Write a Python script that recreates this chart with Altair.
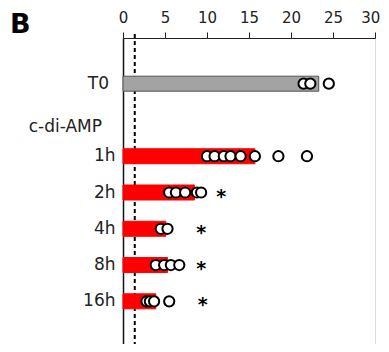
import altair as alt
import pandas as pd

# ---- data ----
rows = ["T0", "c-di-AMP", "1h", "2h", "4h", "8h", "16h"]
bar_groups = ["T0", "1h", "2h", "4h", "8h", "16h"]
bar_means = [23.3, 15.7, 8.5, 5.1, 5.3, 3.9]

pts_T0 = [21.5, 22.3, 24.5]
pts_1h = [10.0, 10.9, 12.0, 12.8, 14.0, 15.7, 18.5, 21.9]
pts_2h = [5.5, 6.3, 7.4, 8.8, 9.3]
pts_4h = [4.5, 5.3]
pts_8h = [3.9, 4.9, 5.7, 6.7]
pts_16h = [2.8, 3.2, 3.7, 5.5]

sig_groups = ["2h", "4h", "8h", "16h"]
sig_x = [11.7, 9.3, 9.3, 9.5]

threshold = 1.4
x_ticks = [0, 5, 10, 15, 20, 25, 30]

# ---- tables ----
bars = pd.DataFrame({"row": bar_groups, "value": bar_means,
                     "kind": ["ctrl"] + ["treat"] * 5})
pts_all = {"T0": pts_T0, "1h": pts_1h, "2h": pts_2h, "4h": pts_4h,
           "8h": pts_8h, "16h": pts_16h}
points = pd.DataFrame([{"row": g, "value": v} for g, vs in pts_all.items() for v in vs])
sig = pd.DataFrame({"row": sig_groups, "value": sig_x, "label": ["*"] * len(sig_groups)})
thr = pd.DataFrame({"value": [threshold]})

FONT = "DejaVu Sans"

xscale = alt.Scale(domain=[0, 30], nice=False, zero=False)
yscale = alt.Scale(domain=rows, paddingInner=0, paddingOuter=0.76)

x_enc = alt.X("value:Q", scale=xscale,
              axis=alt.Axis(orient="top", values=x_ticks, grid=False, title=None,
                            tickSize=6, tickColor="#222", domainColor="#222",
                            labelFontSize=15, labelFont=FONT, labelColor="#222",
                            labelPadding=7, labelFlush=True, labelFlushOffset=4.8))
y_enc = alt.Y("row:N", scale=yscale, sort=rows,
              axis=alt.Axis(orient="left", ticks=False, grid=False, title=None,
                            domainColor="#111", domainWidth=1.5,
                            labelFontSize=17, labelFont=FONT, labelColor="#222",
                            labelPadding=8,
                            labelExpr="(datum.value == 'T0' || datum.value == 'c-di-AMP') ? '' : datum.value"))

rule = alt.Chart(thr).mark_rule(color="black", strokeWidth=2, strokeDash=[4, 3]).encode(
    x=alt.X("value:Q", scale=xscale), y=alt.value(-4), y2=alt.value(325))

bar = alt.Chart(bars).mark_bar(height=15, strokeWidth=1).encode(
    x=x_enc, y=y_enc,
    color=alt.Color("kind:N", scale=alt.Scale(domain=["ctrl", "treat"],
                                               range=["#a3a3a3", "#ff0000"]), legend=None),
    stroke=alt.Stroke("kind:N", scale=alt.Scale(domain=["ctrl", "treat"],
                                                 range=["#555555", "#ff0000"]), legend=None))

dots = alt.Chart(points).mark_point(shape="circle", filled=True, fill="white",
                                    stroke="black", strokeWidth=2, size=105, opacity=1).encode(
    x=alt.X("value:Q", scale=xscale), y=alt.Y("row:N", scale=yscale, sort=rows))

stars = alt.Chart(sig).mark_text(fontSize=19, fontWeight="bold", font=FONT,
                                 baseline="alphabetic", dy=10, color="black").encode(
    x=alt.X("value:Q", scale=xscale), y=alt.Y("row:N", scale=yscale, sort=rows),
    text="label:N")

t0_label = alt.Chart(pd.DataFrame({"row": ["T0"]})).mark_text(
    fontSize=17, font=FONT, align="right", baseline="middle", color="#222").encode(
    x=alt.value(-14), y=alt.Y("row:N", scale=yscale, sort=rows), text="row:N")

grp_label = alt.Chart(pd.DataFrame({"row": ["c-di-AMP"]})).mark_text(
    fontSize=17, font=FONT, align="right", baseline="middle", dy=7, color="#222").encode(
    x=alt.value(-21), y=alt.Y("row:N", scale=yscale, sort=rows), text="row:N")

panel = alt.Chart(pd.DataFrame({"t": ["B"]})).mark_text(
    fontSize=27, fontWeight="bold", font=FONT, align="left", baseline="alphabetic",
    color="black").encode(x=alt.value(-113), y=alt.value(-5), text="t:N")

chart = alt.layer(rule, bar, dots, stars, t0_label, grp_label, panel).properties(
    width=252, height=309,
    autosize=alt.AutoSizeParams(type="none"),
    padding={"left": 115, "top": 30, "right": 6, "bottom": -3},
).configure_view(stroke=None).configure(background="white")

chart.save("out.html", embed_options={"renderer": "svg", "actions": False})
